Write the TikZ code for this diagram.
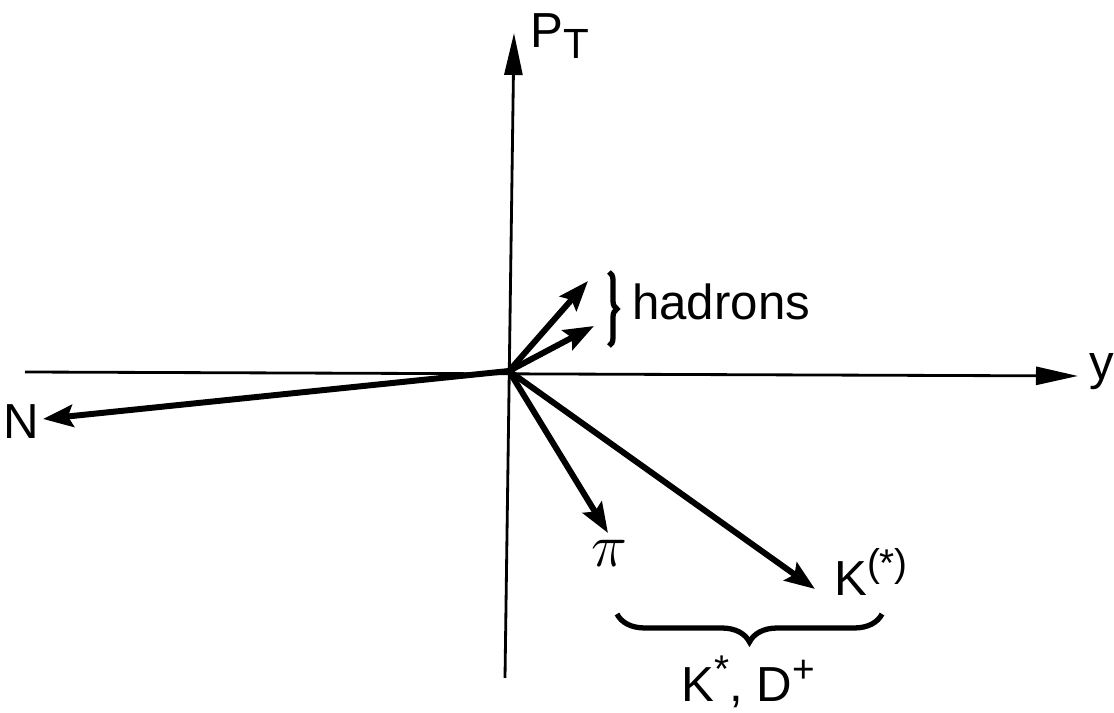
\documentclass[tikz,border=0pt]{standalone}
\usepackage{fontspec}
\setmainfont{Liberation Sans}
\usetikzlibrary{arrows.meta,decorations.pathreplacing}
\newcommand{\lowr}[1]{\raisebox{-0.45ex}{\fontsize{12}{14}\selectfont #1}}
\newcommand{\upr}[1]{\raisebox{0.75ex}{\fontsize{11}{13}\selectfont #1}}

\begin{document}
\begin{tikzpicture}[
    x=0.01cm,y=-0.01cm,
    axis/.style={line width=0.8pt,-{Triangle[length=0.42cm,width=0.18cm]}},
    vec/.style={line width=1.7pt,-{Stealth[length=0.3cm,width=0.22cm,inset=0.05cm]}},
    lbl/.style={font=\fontsize{14}{16}\selectfont,inner sep=1pt},
    brc/.style={decorate,line width=1.5pt}
  ]
    \useasboundingbox (0,0) rectangle (1114,713);
    % axes
    \coordinate (o) at (509,371);
    \coordinate (xl) at (25,372);
    \coordinate (xr) at (1078,376);
    \coordinate (yb) at (505,678);
    \coordinate (yt) at (514,33);
    \draw[axis] (xl)--(xr);
    \draw[axis] (yb)--(yt);
    \node[lbl] (ylab) at (1102,372) {y};
    \node[lbl,anchor=west] (pt) at (526,36) {P\lowr{T}};
    % particle momenta
    \coordinate (tn) at (43,419);
    \coordinate (th1) at (588,281);
    \coordinate (th2) at (594,326);
    \coordinate (tpi) at (608,533);
    \coordinate (tk) at (815,589);
    \draw[vec] (o)--(tn);
    \draw[vec] (o)--(th1);
    \draw[vec] (o)--(th2);
    \draw[vec] (o)--(tpi);
    \draw[vec] (o)--(tk);
    \node[lbl] (nlab) at (21,422) {N};
    \node[lbl,font=\fontsize{19}{20}\selectfont] (pilab) at (609,553) {$\pi$};
    \node[lbl,anchor=west] (klab) at (830,572) {K\upr{(*)}};
    % braces
    \coordinate (hb1) at (609,272);
    \coordinate (hb2) at (609,346);
    \draw[brc,decoration={brace,amplitude=0.08cm}] (hb1)--(hb2);
    \node[lbl,anchor=west] (had) at (628,302) {hadrons};
    \coordinate (kb1) at (882,614);
    \coordinate (kb2) at (617,614);
    \draw[brc,decoration={brace,amplitude=0.28cm}] (kb1)--(kb2);
    \node[lbl] (kd) at (748,682) {K\upr{*}, D\upr{+}};
  \end{tikzpicture}
\end{document}
